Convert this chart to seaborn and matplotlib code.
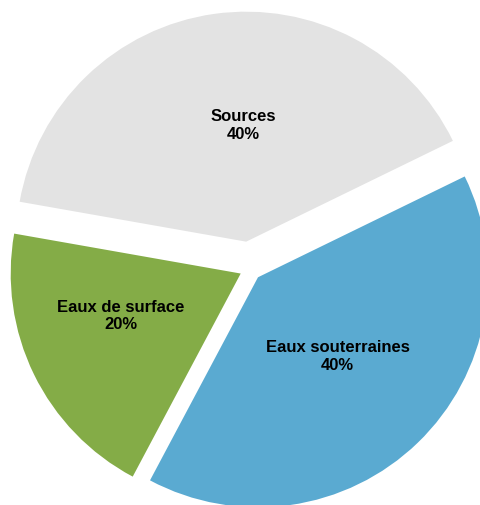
"""
Répartition des ressources en eau - diagramme circulaire
"""

import matplotlib
matplotlib.use('Agg')
import matplotlib.pyplot as plt
import seaborn as sns
import numpy as np

sns.set_theme(style='white')
plt.rcParams['font.family'] = ['Liberation Sans', 'DejaVu Sans']

# données
categories = ['Sources', 'Eaux de surface', 'Eaux souterraines']
parts = [40, 20, 40]
couleurs = ['#E3E3E3', '#84AC47', '#5AAAD1']
ecarts = [0.12, 0.045, 0.05]

# position des étiquettes (distance au sommet, angle en degrés)
pos_etiquettes = [(0.51, 91.5), (0.55, 199), (0.485, 315.5)]

fig = plt.figure(figsize=(4.81, 5.06), dpi=100)
ax = fig.add_axes([0, 0, 1, 1])

wedges, _ = ax.pie(parts, colors=couleurs, explode=ecarts, startangle=26,
                   counterclock=True, radius=1.0,
                   wedgeprops=dict(linewidth=0))

for w, cat, p, (d, ang) in zip(wedges, categories, parts, pos_etiquettes):
    cx, cy = w.center
    a = np.deg2rad(ang)
    ax.text(cx + d * np.cos(a), cy + d * np.sin(a), f'{cat}\n{p}%',
            ha='center', va='center', fontsize=12, fontweight='bold',
            color='black', linespacing=1.2)

# cadrage : centre du disque à (250, 270) px, rayon 230 px
R = 230
ax.set_aspect('auto')
ax.set_xlim(-250 / R, (481 - 250) / R)
ax.set_ylim(-(506 - 270) / R, 270 / R)
ax.axis('off')

plt.savefig('out.png', dpi=100)
plt.close()
